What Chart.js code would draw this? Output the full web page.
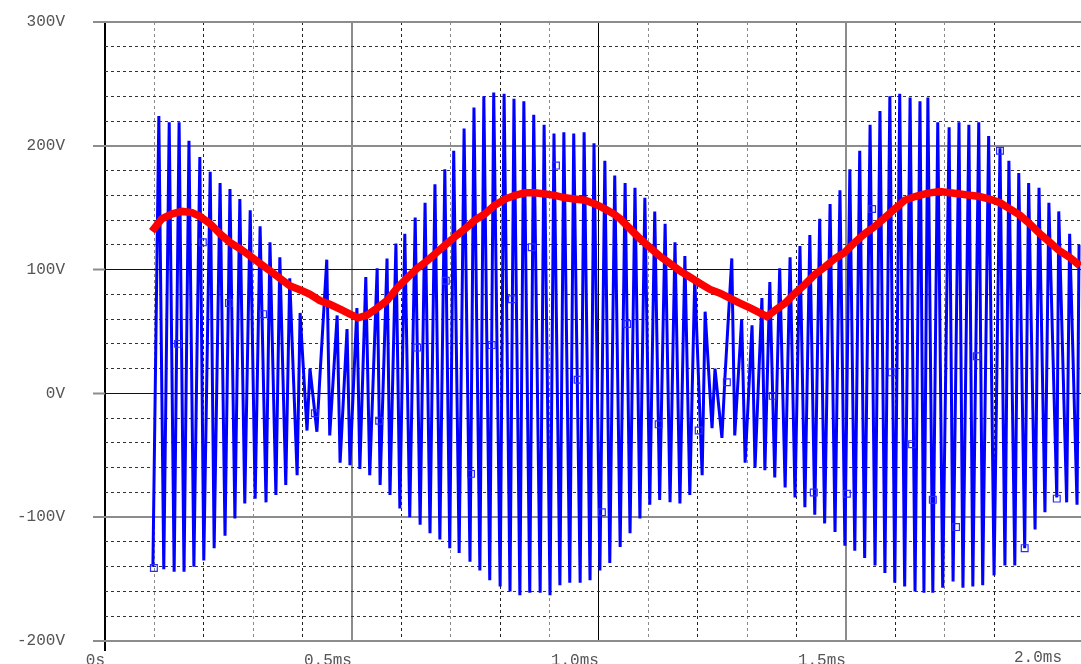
<!DOCTYPE html>
<html>
<head>
<meta charset="utf-8">
<title>Transient</title>
<script src="https://cdn.jsdelivr.net/npm/chart.js@4/dist/chart.umd.min.js"></script>
<style>
  html, body { margin: 0; padding: 0; background: #fff; overflow: hidden; }
  #wrap { width: 1081px; height: 664px; }
</style>
</head>
<body>
<div id="wrap"><canvas id="scope" width="1081" height="664"></canvas></div>
<script>
// blue trace: upper peaks (time in ms, volts)
const HI_T = [0.109,0.130,0.150,0.170,0.192,0.213,0.233,0.253,0.273,0.294,0.314,0.334,0.354,0.374,0.395,0.415,0.435,0.449,0.470,0.490,0.510,0.528,0.551,0.571,0.589,0.607,0.628,0.648,0.668,0.688,0.706,0.727,0.747,0.767,0.787,0.808,0.828,0.848,0.868,0.889,0.909,0.929,0.949,0.970,0.990,1.012,1.032,1.053,1.073,1.093,1.113,1.134,1.154,1.174,1.194,1.215,1.235,1.255,1.269,1.289,1.310,1.330,1.346,1.366,1.387,1.407,1.427,1.447,1.468,1.488,1.508,1.528,1.549,1.569,1.589,1.609,1.630,1.650,1.666,1.686,1.709,1.729,1.749,1.769,1.789,1.812,1.830,1.850,1.870,1.891,1.911,1.931,1.953,1.972];
const HI_V = [224,219,219,204,191,179,170,165,157,148,135,122,110,93,65,20,13,108,63,52,69,94,101,109,121,129,142,154,169,181,196,214,231,240,243,242,238,236,225,217,210,211,210,211,202,188,176,170,166,158,147,137,122,111,93,66,20,12,109,60,55,77,90,101,110,119,128,141,153,164,181,196,217,228,240,242,239,236,239,219,215,219,217,219,208,198,188,178,170,166,154,147,129,120];
// blue trace: lower peaks
const LO_T = [0.097,0.119,0.140,0.160,0.180,0.200,0.221,0.243,0.263,0.283,0.304,0.326,0.346,0.366,0.389,0.409,0.429,0.455,0.476,0.496,0.516,0.536,0.557,0.577,0.597,0.617,0.638,0.658,0.678,0.698,0.717,0.739,0.759,0.779,0.800,0.820,0.840,0.860,0.881,0.901,0.921,0.941,0.962,0.982,1.002,1.022,1.043,1.063,1.083,1.103,1.123,1.144,1.164,1.184,1.209,1.229,1.249,1.275,1.296,1.316,1.336,1.356,1.377,1.397,1.417,1.437,1.457,1.478,1.498,1.518,1.538,1.559,1.579,1.599,1.619,1.640,1.658,1.676,1.696,1.717,1.737,1.757,1.777,1.800,1.822,1.842,1.862,1.883,1.903,1.927,1.947,1.968];
const LO_V = [-140,-142,-144,-144,-140,-135,-125,-115,-101,-89,-85,-88,-82,-74,-66,-30,-31,-34,-56,-58,-61,-66,-74,-82,-93,-100,-106,-113,-118,-125,-129,-136,-143,-151,-156,-160,-163,-161,-161,-163,-155,-153,-153,-151,-143,-137,-124,-113,-101,-90,-86,-88,-89,-82,-66,-28,-36,-34,-56,-60,-62,-68,-76,-84,-92,-98,-105,-112,-123,-127,-133,-139,-145,-153,-156,-160,-161,-161,-157,-152,-157,-156,-155,-147,-139,-139,-125,-110,-96,-84,-88,-90];
// blue trace markers
const MK_T = [0.099,0.148,0.198,0.251,0.320,0.425,0.555,0.632,0.690,0.741,0.783,0.824,0.864,0.913,0.957,1.006,1.057,1.121,1.202,1.259,1.352,1.435,1.502,1.553,1.593,1.634,1.676,1.723,1.765,1.812,1.862,1.927];
const MK_V = [-141,40,122,73,64,-16,-22,37,91,-65,39,76,118,184,11,-96,56,-25,-30,9,-2,-80,-81,149,17,-41,-86,-108,30,196,-125,-85];
// red trace (average)
const RED_T = [0.095,0.115,0.136,0.156,0.176,0.192,0.213,0.233,0.253,0.273,0.294,0.314,0.334,0.354,0.374,0.399,0.415,0.435,0.455,0.476,0.496,0.512,0.530,0.551,0.571,0.591,0.611,0.632,0.652,0.672,0.692,0.713,0.729,0.749,0.769,0.789,0.810,0.830,0.850,0.870,0.891,0.911,0.931,0.951,0.972,0.992,1.012,1.030,1.043,1.063,1.083,1.103,1.123,1.144,1.164,1.184,1.204,1.225,1.245,1.265,1.285,1.306,1.326,1.340,1.356,1.377,1.397,1.417,1.437,1.457,1.478,1.498,1.518,1.538,1.559,1.579,1.599,1.619,1.640,1.658,1.670,1.690,1.711,1.731,1.751,1.771,1.791,1.812,1.832,1.852,1.872,1.893,1.913,1.933,1.953,1.974];
const RED_V = [131,141,145,147,146,143,137,129,122,117,111,105,99,93,87,83,80,75,72,68,64,61,63,69,75,85,93,101,107,114,121,128,133,140,145,152,157,160,162,162,161,160,158,157,156,153,149,145,141,133,125,118,111,105,99,94,89,84,81,77,73,69,65,62,67,73,81,88,96,102,109,114,122,129,135,142,149,156,159,161,162,163,162,161,160,159,157,154,149,144,137,129,122,115,110,103];

const X_MAX = 1.976;   // visible end of the time axis (ms)
const FONT = { family: "'Liberation Mono', 'DejaVu Sans Mono', monospace", size: 16 };
const TXT = '#555555';

// merge the peaks into one polyline
let blue = [];
HI_T.forEach((t, i) => blue.push({ x: t, y: HI_V[i] }));
LO_T.forEach((t, i) => blue.push({ x: t, y: LO_V[i] }));
blue.sort((a, b) => a.x - b.x);

const marks = MK_T.map((t, i) => ({ x: t, y: MK_V[i] }));
const red = RED_T.map((t, i) => ({ x: t, y: RED_V[i] }));

// index of a 0.1ms grid step, or -1 if the tick is off the grid
function tenth(v) {
    const n = Math.round(v * 10);
    return Math.abs(v * 10 - n) < 1e-6 ? n : -1;
}

// label that sits past the right edge in the original plot
const lastLabel = {
    id: 'lastLabel',
    afterDraw(chart) {
        const c = chart.ctx;
        c.save();
        c.font = FONT.size + 'px ' + FONT.family;
        c.fillStyle = TXT;
        c.textAlign = 'right';
        c.textBaseline = 'middle';
        c.fillText('2.0ms', 1062, 658);
        c.restore();
    }
};

new Chart(document.getElementById('scope'), {
    type: 'line',
    data: {
        datasets: [
            {
                data: red,
                borderColor: '#ff0000',
                borderWidth: 7.5,
                pointRadius: 0,
                tension: 0,
                order: 1
            },
            {
                type: 'scatter',
                data: marks,
                showLine: false,
                pointStyle: 'rect',
                pointRadius: 4.8,
                borderColor: '#2a2aff',
                backgroundColor: 'rgba(0,0,0,0)',
                borderWidth: 1.2,
                order: 2
            },
            {
                data: blue,
                borderColor: '#0000ff',
                borderWidth: 3,
                pointRadius: 0,
                tension: 0,
                order: 3
            }
        ]
    },
    options: {
        responsive: false,
        animation: false,
        events: [],
        layout: { autoPadding: false, padding: { top: 22, right: 0, left: 0, bottom: 0 } },
        plugins: { legend: { display: false }, tooltip: { enabled: false } },
        scales: {
            x: {
                type: 'linear',
                min: 0,
                max: X_MAX,
                afterFit: s => { s.height = 23; s.paddingLeft = 0; s.paddingRight = 0; },
                ticks: {
                    stepSize: 0.1,
                    autoSkip: false,
                    maxRotation: 0,
                    align: 'end',
                    padding: 0,
                    color: TXT,
                    font: FONT,
                    callback: v => {
                        const n = tenth(v);
                        if (n === 0) return '0s';
                        return n > 0 && n % 5 === 0 ? (n / 10).toFixed(1) + 'ms' : '';
                    }
                },
                grid: {
                    tickLength: 10,
                    color: c => {
                        const n = tenth(c.tick.value);
                        if (n < 0) return 'rgba(0,0,0,0)';
                        if (n === 0 || n === 10) return '#000000';
                        if (n % 5 === 0) return '#8c8c8c';
                        return n % 2 === 0 ? '#222222' : '#8a8a8a';
                    },
                    lineWidth: c => {
                        const n = tenth(c.tick.value);
                        if (n === 0) return 2;
                        if (n === 10) return 1;
                        return n % 5 === 0 ? 2 : 1;
                    },
                    tickColor: c => tenth(c.tick.value) === 0 ? '#000000' : 'rgba(0,0,0,0)',
                    tickWidth: 2
                },
                border: {
                    display: false,
                    dash: c => (c.tick && tenth(c.tick.value) % 5 !== 0) ? [3, 3] : []
                }
            },
            y: {
                type: 'linear',
                min: -200,
                max: 300,
                afterFit: s => { s.width = 105; s.paddingTop = 0; s.paddingBottom = 0; },
                ticks: {
                    stepSize: 20,
                    autoSkip: false,
                    padding: 28,
                    color: TXT,
                    font: FONT,
                    callback: v => v % 100 === 0 ? v + 'V' : ''
                },
                grid: {
                    tickLength: 12,
                    color: c => {
                        const v = c.tick.value;
                        if (v === 0 || v === 100) return '#111111';
                        if (v % 100 === 0) return '#8c8c8c';
                        return '#333333';
                    },
                    lineWidth: c => {
                        const v = c.tick.value;
                        if (v === 0 || v === 100) return 1;
                        return v % 100 === 0 ? 2 : 1;
                    },
                    tickColor: c => c.tick.value % 100 === 0 ? '#8c8c8c' : 'rgba(0,0,0,0)',
                    tickWidth: 2
                },
                border: {
                    display: false,
                    dash: c => (c.tick && c.tick.value % 100 !== 0) ? [3, 3] : []
                }
            }
        }
    },
    plugins: [lastLabel]
});
</script>
</body>
</html>
